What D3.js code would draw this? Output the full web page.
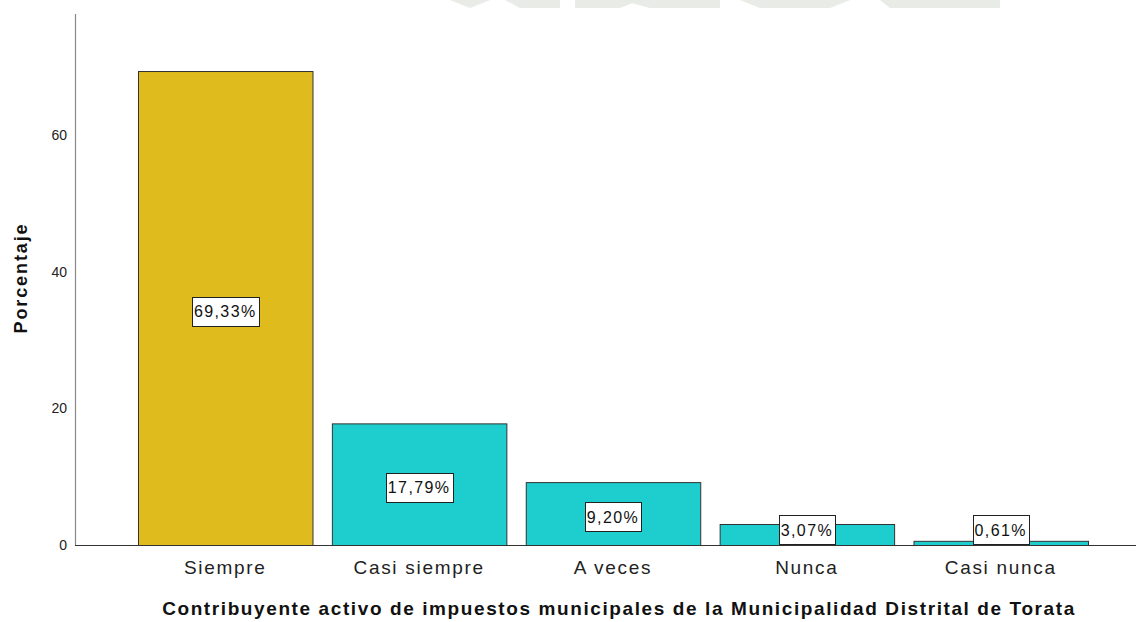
<!DOCTYPE html>
<html>
<head>
<meta charset="utf-8">
<script src="https://cdn.jsdelivr.net/npm/d3@7"></script>
<style>
  body { margin: 0; background: #fff; }
  svg { display: block; font-family: "Liberation Sans", Arial, sans-serif; }
</style>
</head>
<body>
<svg id="chart" width="1138" height="622"></svg>
<script>
// categories and percentages
const categories = ['Siempre', 'Casi siempre', 'A veces', 'Nunca', 'Casi nunca'];
const percentages = [69.33, 17.79, 9.20, 3.07, 0.61];
const yTicks = [0, 20, 40, 60];
const barColors = ['#e0bb1e', '#1ecece', '#1ecece', '#1ecece', '#1ecece'];

const svg = d3.select('#chart');

// faint watermark at the top
const wm = svg.append('g').attr('fill', '#e4e7e0').attr('opacity', 0.8);
wm.append('path').attr('d', 'M450,0 L490,0 L470,8 Z');
wm.append('path').attr('d', 'M505,0 L560,0 L560,8 L520,8 Z');
wm.append('path').attr('d', 'M575,0 L640,0 L620,8 L575,8 Z');
wm.append('path').attr('d', 'M620,0 L720,0 L720,8 L650,8 Z');
wm.append('path').attr('d', 'M740,0 L850,0 L830,8 L760,8 Z');
wm.append('path').attr('d', 'M880,0 L1000,0 L1000,8 L890,8 Z');

// y scale: 0 at the baseline, 60 near the top
const baseline = 545;
const y = d3.scaleLinear().domain([0, 60]).range([baseline, 134.8]);
const x = d3.scaleBand().domain(categories).range([138, 1088]).paddingInner(0.1).paddingOuter(0);

// y axis line
svg.append('line')
  .attr('x1', 75.5).attr('x2', 75.5)
  .attr('y1', 14).attr('y2', baseline)
  .attr('stroke', '#888').attr('stroke-width', 1.2);

// bars
svg.selectAll('rect.bar')
  .data(percentages)
  .enter()
  .append('rect')
  .attr('class', 'bar')
  .attr('x', (d, i) => x(categories[i]) + 0.5)
  .attr('y', d => y(d) + 0.5)
  .attr('width', x.bandwidth())
  .attr('height', d => baseline - y(d))
  .attr('fill', (d, i) => barColors[i])
  .attr('stroke', '#333')
  .attr('stroke-width', 1);

// x axis line
svg.append('line')
  .attr('x1', 75).attr('x2', 1136)
  .attr('y1', baseline + 0.5).attr('y2', baseline + 0.5)
  .attr('stroke', '#333').attr('stroke-width', 1);

// y tick labels
svg.selectAll('text.ytick')
  .data(yTicks)
  .enter()
  .append('text')
  .attr('class', 'ytick')
  .attr('x', 67)
  .attr('y', d => y(d) + 5)
  .attr('text-anchor', 'end')
  .attr('font-size', 14)
  .attr('fill', '#222')
  .text(d => d);

// category labels
svg.selectAll('text.xtick')
  .data(categories)
  .enter()
  .append('text')
  .attr('class', 'xtick')
  .attr('x', d => x(d) + x.bandwidth() / 2)
  .attr('y', 574)
  .attr('text-anchor', 'middle')
  .attr('font-size', 19)
  .attr('letter-spacing', 1.7)
  .attr('fill', '#222')
  .text(d => d);

// value labels in white boxes
const boxH = 29;
const fmt = d => d.toFixed(2).replace('.', ',') + '%';
percentages.forEach((d, i) => {
  const cx = x(categories[i]) + x.bandwidth() / 2;
  let cy = (y(d) + baseline) / 2 + 3;
  cy = Math.min(cy, baseline - 1 - boxH / 2);
  const g = svg.append('g');
  const t = g.append('text')
    .attr('x', cx)
    .attr('y', cy + 6)
    .attr('text-anchor', 'middle')
    .attr('font-size', 16)
    .attr('letter-spacing', 1.4)
    .attr('fill', '#111')
    .text(fmt(d));
  const w = t.node().getComputedTextLength() + 4;
  g.insert('rect', 'text')
    .attr('x', Math.round(cx - w / 2) + 0.5)
    .attr('y', Math.round(cy - boxH / 2) + 0.5)
    .attr('width', Math.round(w))
    .attr('height', boxH)
    .attr('fill', '#fff')
    .attr('stroke', '#222')
    .attr('stroke-width', 1);
});

// axis titles
svg.append('text')
  .attr('transform', 'translate(27,278) rotate(-90)')
  .attr('text-anchor', 'middle')
  .attr('font-size', 18)
  .attr('font-weight', 'bold')
  .attr('letter-spacing', 1.9)
  .attr('fill', '#111')
  .text('Porcentaje');

svg.append('text')
  .attr('x', 619)
  .attr('y', 615)
  .attr('text-anchor', 'middle')
  .attr('font-size', 19)
  .attr('font-weight', 'bold')
  .attr('letter-spacing', 1.6)
  .attr('fill', '#111')
  .text('Contribuyente activo de impuestos municipales de la Municipalidad Distrital de Torata');
</script>
</body>
</html>
